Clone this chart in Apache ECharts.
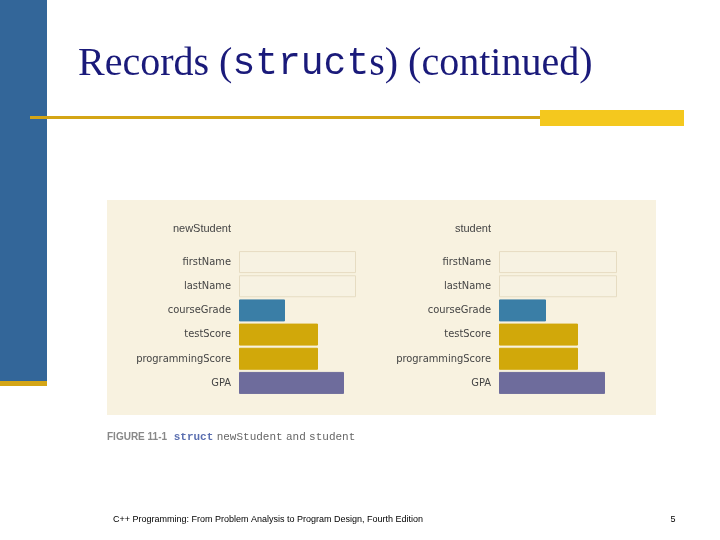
<!DOCTYPE html>
<html><head><meta charset="utf-8">
<script src="https://cdn.jsdelivr.net/npm/echarts@6/dist/echarts.min.js"></script>
<style>html,body{margin:0;background:#fff}#c{width:720px;height:540px}</style>
</head><body><div id="c"></div>
<script>
const fields = ['firstName', 'lastName', 'courseGrade', 'testScore', 'programmingScore', 'GPA']
const newStudentSizes = [117, 117, 46, 79, 79, 105]
const studentSizes = [118, 118, 47, 79, 79, 106]
const fieldColors = ['#f7f2e2', '#f7f2e2', '#3a7ea6', '#d1a80a', '#d1a80a', '#6e6c9c']

const chart = echarts.init(document.getElementById('c'))

function grid(left) {
  return { left: left, top: 250, width: 130, height: 145 }
}
function yAxis(i) {
  return {
    type: 'category', gridIndex: i, inverse: true, data: fields,
    axisLine: { show: false }, axisTick: { show: false },
    axisLabel: { color: '#444', fontSize: 11, fontFamily: 'Liberation Sans Narrow, DejaVu Sans Condensed, sans-serif', margin: 8 }
  }
}
function xAxis(i) {
  return { type: 'value', gridIndex: i, min: 0, max: 130, show: false, splitLine: { show: false } }
}
function series(i, vals) {
  return {
    type: 'bar', xAxisIndex: i, yAxisIndex: i, barWidth: 22, silent: true,
    data: vals.map((v, k) => ({
      value: v,
      itemStyle: { color: fieldColors[k], borderColor: k < 2 ? '#e6dcc2' : fieldColors[k], borderWidth: 1 }
    }))
  }
}

chart.setOption({
  animation: false,
  grid: [grid(239), grid(499)],
  xAxis: [xAxis(0), xAxis(1)],
  yAxis: [yAxis(0), yAxis(1)],
  series: [series(0, newStudentSizes), series(1, studentSizes)],
  graphic: [
    { type: 'rect', z: -10, shape: { x: 0, y: 0, width: 47, height: 381 }, style: { fill: '#336699' } },
    { type: 'rect', z: -10, shape: { x: 0, y: 381, width: 47, height: 5 }, style: { fill: '#d4a516' } },
    { type: 'rect', z: -10, shape: { x: 30, y: 116, width: 654, height: 3 }, style: { fill: '#d4a516' } },
    { type: 'rect', z: -10, shape: { x: 540, y: 110, width: 144, height: 16 }, style: { fill: '#f4c81e' } },
    { type: 'rect', z: -10, shape: { x: 107, y: 200, width: 549, height: 215 }, style: { fill: '#f8f2e0' } },
    {
      type: 'text', left: 78, top: 44,
      style: {
        text: '{a|Records (}{m|struct}{a|s) (continued)}',
        rich: {
          a: { fontFamily: 'Liberation Serif, serif', fontSize: 40, fill: '#1a1a7a' },
          m: { fontFamily: 'Liberation Mono, monospace', fontSize: 38, fill: '#1a1a7a' }
        }
      }
    },
    { type: 'text', x: 231, y: 229, style: { text: 'newStudent', align: 'right', verticalAlign: 'middle', fontSize: 11, fill: '#444', fontFamily: 'Liberation Sans Narrow, sans-serif' } },
    { type: 'text', x: 491, y: 229, style: { text: 'student', align: 'right', verticalAlign: 'middle', fontSize: 11, fill: '#444', fontFamily: 'Liberation Sans Narrow, sans-serif' } },
    {
      type: 'text', x: 107, y: 437,
      style: {
        text: '{f|FIGURE 11-1}  {k|struct} {m|newStudent} {m|and} {m|student}', verticalAlign: 'middle',
        rich: {
          f: { fontSize: 10, fontWeight: 'bold', fill: '#888', fontFamily: 'Liberation Sans, sans-serif' },
          k: { fontSize: 11, fontWeight: 'bold', fill: '#5b6fb0', fontFamily: 'Liberation Mono, monospace' },
          m: { fontSize: 11, fill: '#666', fontFamily: 'Liberation Mono, monospace' }
        }
      }
    },
    { type: 'text', x: 113, y: 520, style: { text: 'C++ Programming: From Problem Analysis to Program Design, Fourth Edition', verticalAlign: 'middle', fontSize: 9, fill: '#000', fontFamily: 'Liberation Sans, sans-serif' } },
    { type: 'text', x: 673, y: 520, style: { text: '5', align: 'center', verticalAlign: 'middle', fontSize: 9, fill: '#000', fontFamily: 'Liberation Sans, sans-serif' } }
  ]
})
</script></body></html>
